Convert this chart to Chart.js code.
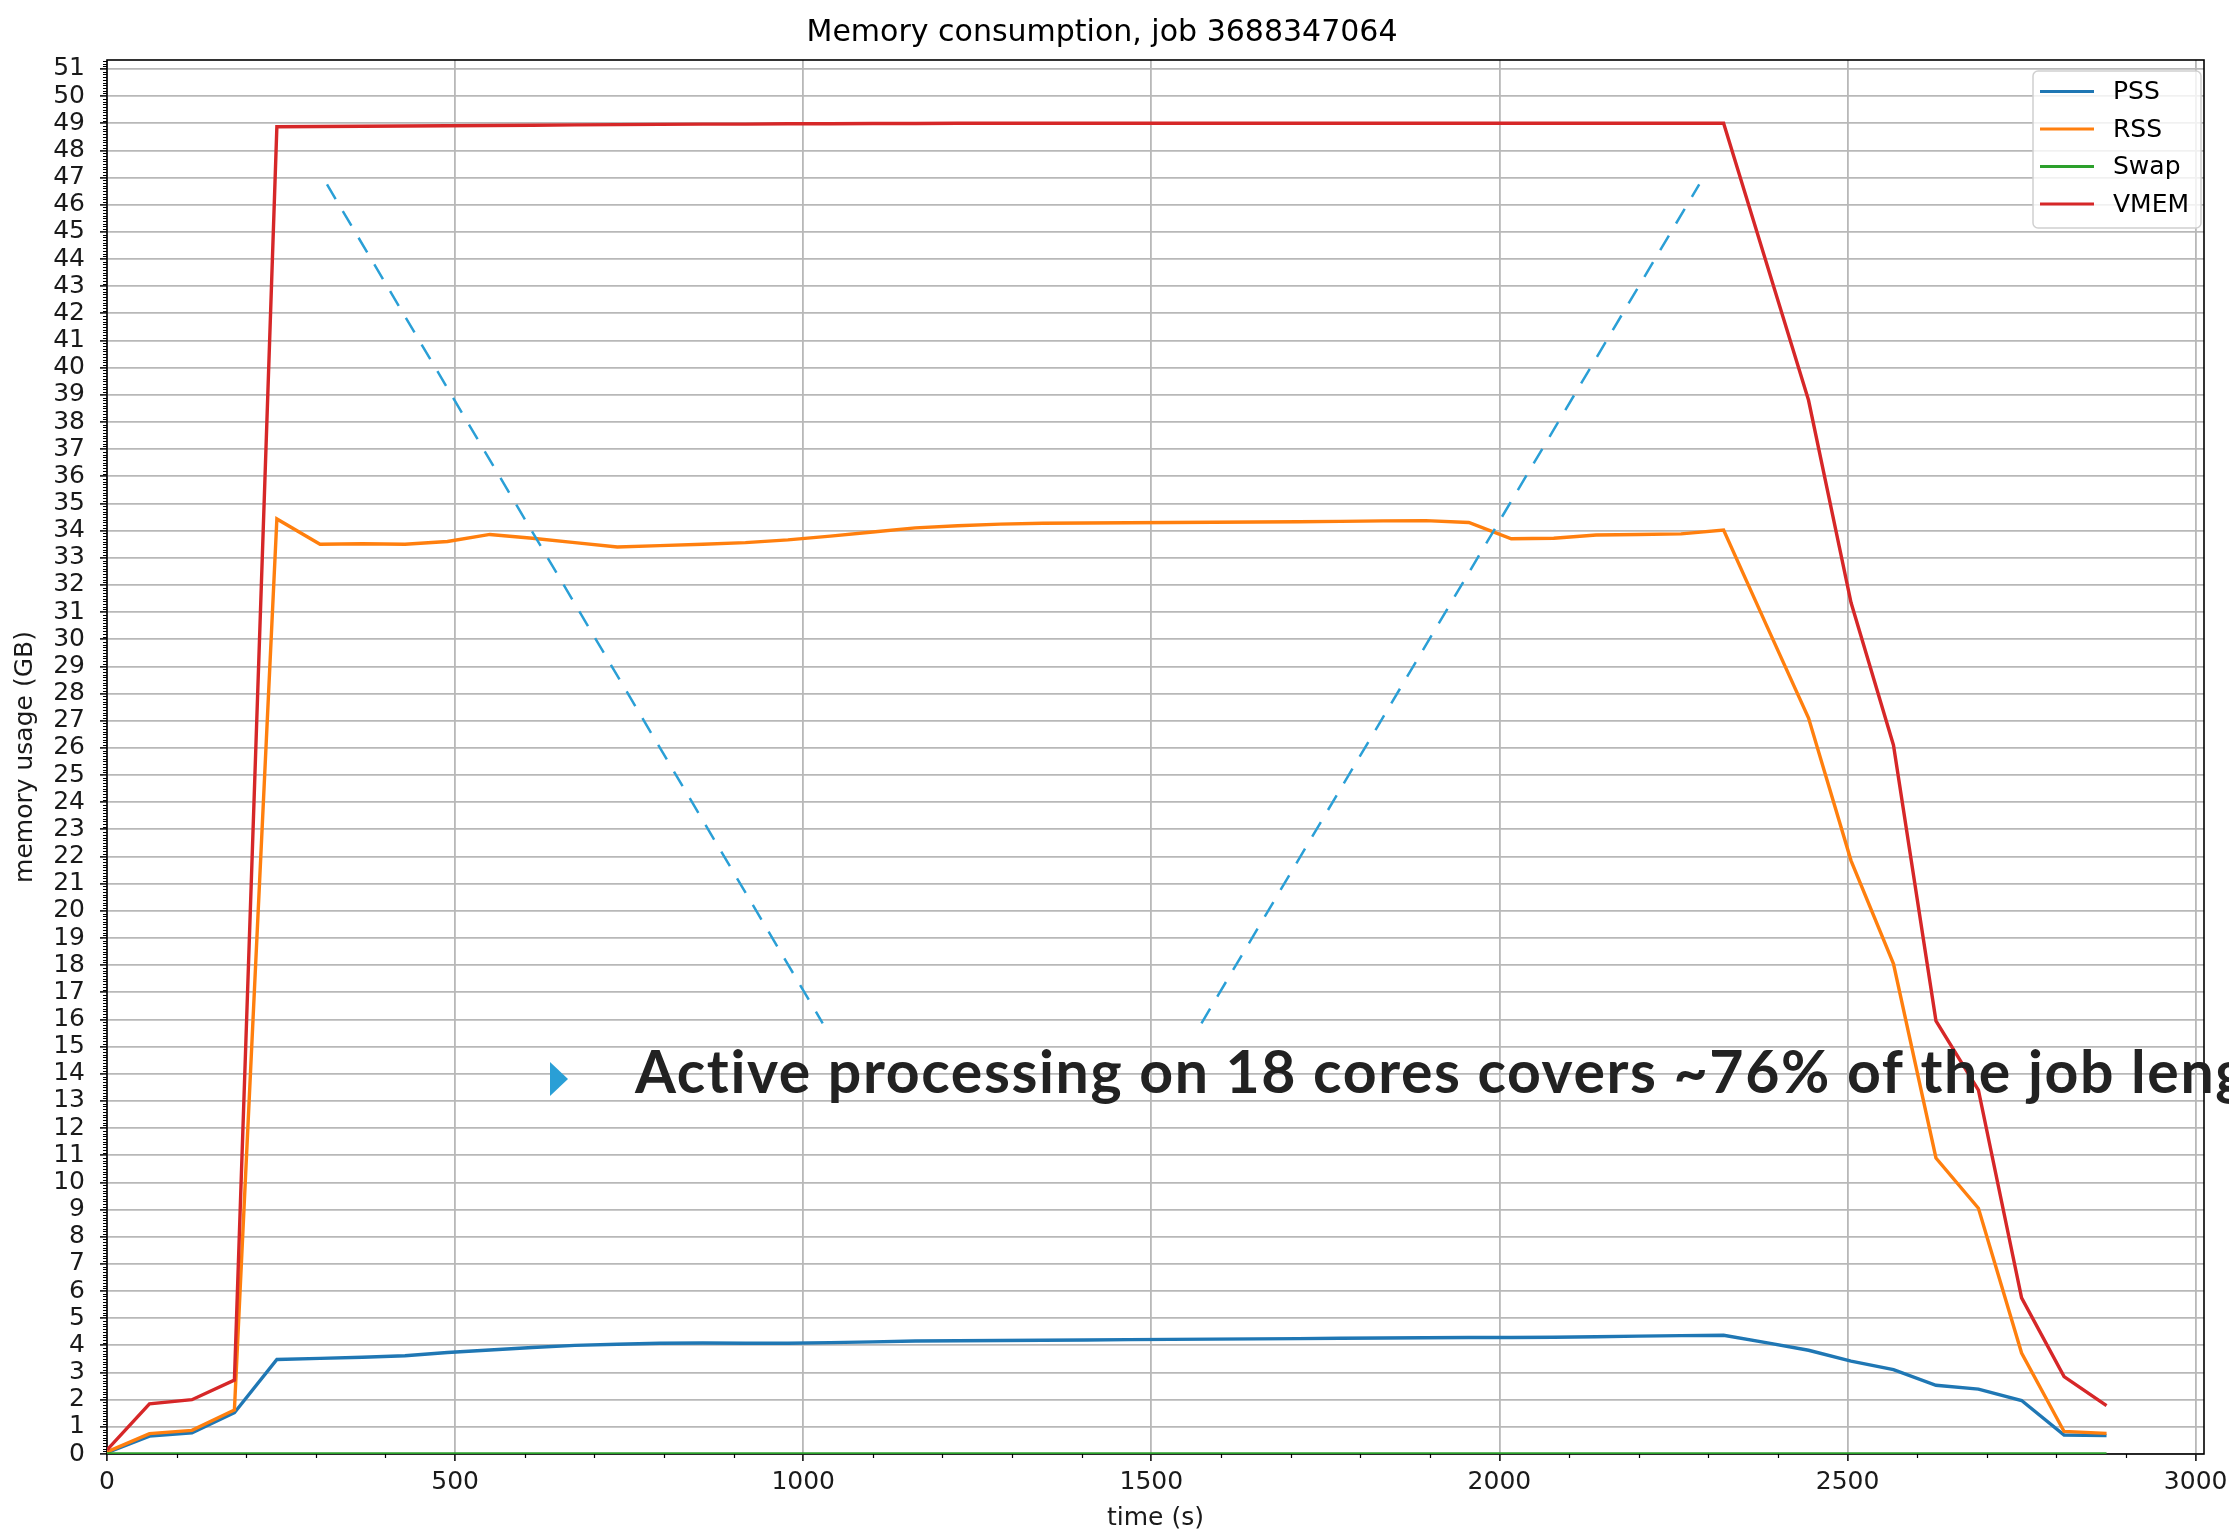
<!DOCTYPE html>
<html>
<head>
<meta charset="utf-8">
<script src="https://cdn.jsdelivr.net/npm/chart.js@4.4.1/dist/chart.umd.min.js"></script>
<style>
  html, body { margin: 0; padding: 0; background: #ffffff; }
  #wrap { width: 2229px; height: 1532px; position: relative; }
</style>
</head>
<body>
<div id="wrap"><canvas id="memoryChart"></canvas></div>
<script>
"use strict"

// samples, seconds since job start
const timeSec = [0, 61, 122, 183, 244, 306, 367, 428, 489, 550, 611, 672, 733, 794, 856, 917,
    978, 1039, 1100, 1161, 1222, 1283, 1344, 1406, 1467, 1528, 1589, 1650, 1711, 1772, 1833, 1894,
    1956, 2017, 2078, 2139, 2200, 2261, 2322, 2383, 2444, 2505, 2566, 2627, 2688, 2750, 2811, 2872];

// memory in GB
const pss = [0.05, 0.66, 0.78, 1.52, 3.48, 3.52, 3.56, 3.62, 3.74, 3.83, 3.92, 4.0, 4.04, 4.08, 4.09, 4.08,
    4.08, 4.1, 4.13, 4.16, 4.17, 4.18, 4.19, 4.2, 4.21, 4.22, 4.23, 4.24, 4.25, 4.26, 4.27, 4.28,
    4.29, 4.29, 4.3, 4.32, 4.34, 4.36, 4.37, 4.1, 3.82, 3.42, 3.11, 2.53, 2.39, 1.97, 0.7, 0.68];
const rss = [0.08, 0.75, 0.87, 1.62, 34.43, 33.5, 33.52, 33.5, 33.6, 33.86, 33.72, 33.56, 33.4, 33.45, 33.5, 33.56,
    33.66, 33.8, 33.95, 34.1, 34.18, 34.24, 34.27, 34.28, 34.29, 34.3, 34.31, 34.32, 34.33, 34.34, 34.36, 34.37,
    34.3, 33.7, 33.72, 33.84, 33.86, 33.88, 34.02, 30.55, 27.1, 21.85, 18.05, 10.9, 9.05, 3.72, 0.83, 0.76];
const swap = [0, 0, 0, 0, 0, 0, 0, 0, 0, 0, 0, 0, 0, 0, 0, 0,
    0, 0, 0, 0, 0, 0, 0, 0, 0, 0, 0, 0, 0, 0, 0, 0,
    0, 0, 0, 0, 0, 0, 0, 0, 0, 0, 0, 0, 0, 0, 0, 0];
const vmem = [0.15, 1.85, 2.0, 2.72, 48.87, 48.88, 48.89, 48.9, 48.91, 48.92, 48.93, 48.94, 48.95, 48.96, 48.97, 48.97,
    48.98, 48.98, 48.99, 48.99, 49.0, 49.0, 49.0, 49.0, 49.0, 49.0, 49.0, 49.0, 49.0, 49.0, 49.0, 49.0,
    49.0, 49.0, 49.0, 49.0, 49.0, 49.0, 49.0, 43.9, 38.8, 31.35, 26.1, 15.95, 13.4, 5.75, 2.85, 1.78];

const seriesLabels = ["PSS", "RSS", "Swap", "VMEM"];
const seriesColors = ["#1f77b4", "#ff7f0e", "#2ca02c", "#d62728"];

const xTickValues = [0, 500, 1000, 1500, 2000, 2500, 3000];

// callout guides from the slide overlay, in (time, GB)
const guideLeftX = [316, 1028];
const guideLeftY = [46.75, 15.86];
const guideRightX = [1572, 2287];
const guideRightY = [15.86, 46.75];
const calloutText = "Active processing on 18 cores covers ~76% of the job length";
const calloutHead = "Active processing on 18 cores covers ~76% of the job ";
const calloutColor = "#2a9fd6";

const xMax = 3012;
const yMax = 51.33;
const yMinorStep = 0.1;
const xMinorStep = 100;

function toPoints(xs, ys) {
    return xs.map((x, i) => ({x: x, y: ys[i]}));
}

const seriesValues = [pss, rss, swap, vmem];
const datasets = seriesValues.map((vals, i) => ({
    label: seriesLabels[i],
    data: toPoints(timeSec, vals),
    borderColor: seriesColors[i],
    backgroundColor: seriesColors[i],
    borderWidth: 3.4,
    pointRadius: 0,
    tension: 0,
    order: 4 - i,
}));
[[guideLeftX, guideLeftY], [guideRightX, guideRightY]].forEach(g => {
    datasets.push({
        label: "",
        data: toPoints(g[0], g[1]),
        borderColor: calloutColor,
        borderWidth: 2.5,
        borderDash: [17, 14],
        pointRadius: 0,
        order: 0,
    });
});

const tickFont = {family: "DejaVu Sans", size: 25};

const framePlugin = {
    id: "frame",
    beforeDatasetsDraw(chart) {
        const {ctx, chartArea: a, scales} = chart;
        ctx.save();
        ctx.strokeStyle = "#000000";
        ctx.lineWidth = 1.2;
        ctx.beginPath();
        for (let k = 1; k * yMinorStep < yMax; k++) {
            if (k % 10 === 0) continue;
            const py = Math.round(scales.y.getPixelForValue(k * yMinorStep)) + 0.5;
            ctx.moveTo(a.left, py);
            ctx.lineTo(a.left - 4, py);
        }
        for (let k = 1; k * xMinorStep < xMax; k++) {
            if (k % 5 === 0) continue;
            const px = Math.round(scales.x.getPixelForValue(k * xMinorStep)) + 0.5;
            ctx.moveTo(px, a.bottom);
            ctx.lineTo(px, a.bottom + 4);
        }
        ctx.stroke();
        ctx.lineWidth = 1.6;
        ctx.strokeRect(a.left, a.top, a.right - a.left, a.bottom - a.top);
        ctx.restore();
    },
    afterDatasetsDraw(chart) {
        const {ctx} = chart;
        ctx.save();
        // callout bullet + text
        ctx.fillStyle = calloutColor;
        ctx.beginPath();
        ctx.moveTo(550, 1062);
        ctx.lineTo(550, 1096);
        ctx.lineTo(568, 1079);
        ctx.closePath();
        ctx.fill();
        ctx.fillStyle = "#222222";
        ctx.font = "bold 59px Lato";
        ctx.textBaseline = "alphabetic";
        ctx.textAlign = "left";
        const plain = ctx.measureText(calloutHead).width;
        ctx.letterSpacing = ((1497 - plain) / calloutHead.length).toFixed(2) + "px";
        ctx.fillText(calloutText, 635, 1093);
        ctx.letterSpacing = "0px";

        // legend box, upper right
        const lx = 2033, ly = 71, lw = 168, lh = 157;
        ctx.beginPath();
        ctx.roundRect(lx, ly, lw, lh, 5);
        ctx.fillStyle = "rgba(255,255,255,0.8)";
        ctx.fill();
        ctx.strokeStyle = "#d0d0d0";
        ctx.lineWidth = 1.5;
        ctx.stroke();
        ctx.font = "25px 'DejaVu Sans'";
        ctx.textBaseline = "middle";
        chart.data.datasets.slice(0, seriesLabels.length).forEach((ds, i) => {
            const y = 91.5 + i * 37.5;
            ctx.strokeStyle = ds.borderColor;
            ctx.lineWidth = 3;
            ctx.beginPath();
            ctx.moveTo(lx + 7, y);
            ctx.lineTo(lx + 61, y);
            ctx.stroke();
            ctx.fillStyle = "#000000";
            ctx.fillText(ds.label, lx + 80, y + 1);
        });
        ctx.restore();
    }
};

const memoryChart = new Chart(
    document.querySelector("#memoryChart"),
    {
        type: "line",
        data: {datasets: datasets},
        options: {
            responsive: true,
            maintainAspectRatio: false,
            animation: false,
            devicePixelRatio: 1,
            layout: {padding: {left: 0, right: 25, top: 0, bottom: 0}},
            plugins: {
                legend: {display: false},
                tooltip: {enabled: false},
                title: {
                    display: true,
                    text: "Memory consumption, job 3688347064",
                    color: "#000000",
                    font: {family: "DejaVu Sans", size: 30, weight: "normal", lineHeight: 1.2},
                    padding: {top: 15, bottom: 9},
                },
            },
            scales: {
                x: {
                    type: "linear",
                    min: 0,
                    max: xMax,
                    border: {display: false},
                    grid: {color: "#b8b8b8", lineWidth: 1.8, tickColor: "#000000", tickLength: 7, tickWidth: 1.5},
                    ticks: {autoSkip: false, maxRotation: 0, color: "#1a1a1a", font: tickFont, padding: 6,
                        callback: v => String(v)},
                    title: {display: true, text: "time (s)", color: "#1a1a1a",
                        font: {family: "DejaVu Sans", size: 25, lineHeight: 1.0}, padding: {top: 0, bottom: 1.5}},
                    afterBuildTicks(scale) { scale.ticks = xTickValues.map(v => ({value: v})); },
                    afterFit(scale) {
                        scale.height = 78;
                        scale.paddingLeft = 0;
                        scale.paddingRight = 0;
                    },
                },
                y: {
                    type: "linear",
                    min: 0,
                    max: yMax,
                    border: {display: false},
                    grid: {color: "#b8b8b8", lineWidth: 1.8, tickColor: "#000000", tickLength: 7, tickWidth: 1.5},
                    ticks: {stepSize: 1, includeBounds: false, autoSkip: false,
                        color: "#1a1a1a", font: tickFont, padding: 15, callback: v => String(v)},
                    title: {display: true, text: "memory usage (GB)", color: "#1a1a1a",
                        font: {family: "DejaVu Sans", size: 25, lineHeight: 1.0}, padding: {top: 13, bottom: 0}},
                    afterFit(scale) { scale.width = 107; },
                },
            },
        },
        plugins: [framePlugin],
    }
);
</script>
</body>
</html>
